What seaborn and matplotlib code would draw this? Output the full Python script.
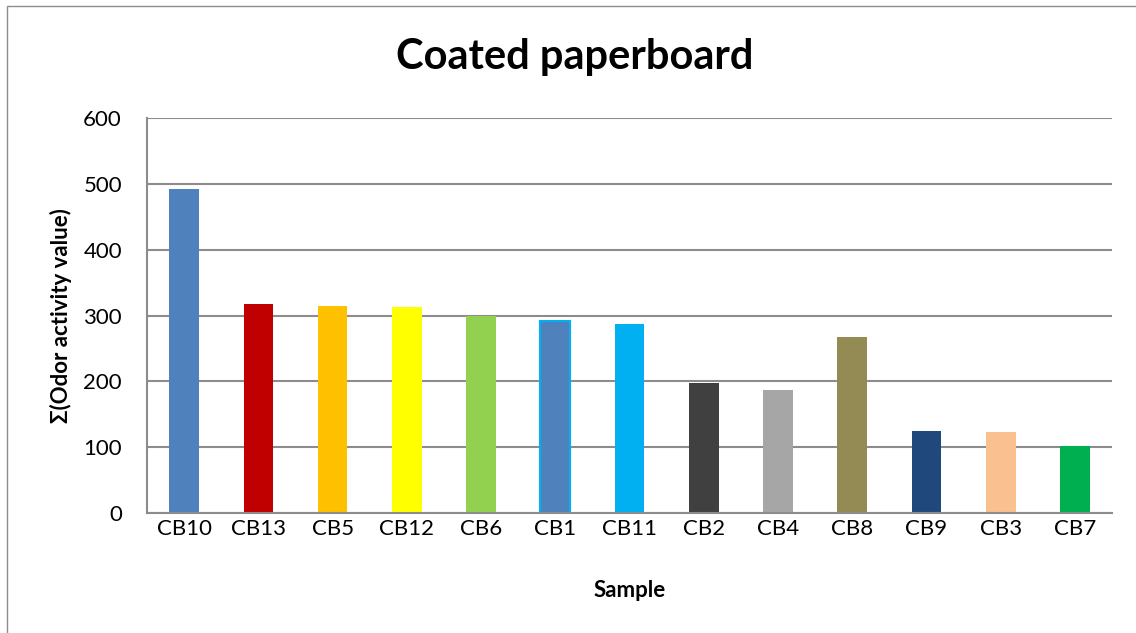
import matplotlib
matplotlib.use("Agg")
import matplotlib.pyplot as plt
import seaborn as sns
import pandas as pd
from matplotlib.patches import Rectangle

# values
samples = ["CB10", "CB13", "CB5", "CB12", "CB6", "CB1", "CB11",
           "CB2", "CB4", "CB8", "CB9", "CB3", "CB7"]
oav_sum = [492, 318, 315, 313, 300, 292, 287, 198, 187, 267, 125, 123, 102]
bar_colors = ["#4f81bd", "#c00000", "#ffc000", "#ffff00", "#92d050", "#4f81bd",
              "#00b0f0", "#404040", "#a6a6a6", "#948a54", "#1f497d", "#fac090",
              "#00b050"]

df = pd.DataFrame({"Sample": samples, "OAV": oav_sum})

sns.set_style("white")
plt.rcParams["font.family"] = ["Lato", "DejaVu Sans"]
plt.rcParams["text.color"] = "black"
plt.rcParams["axes.labelcolor"] = "black"

fig = plt.figure(figsize=(11.36, 6.33), dpi=100)
ax = fig.add_axes([147 / 1136, 1 - 513 / 633, (1112 - 147) / 1136, (513 - 118) / 633])

sns.barplot(data=df, x="Sample", y="OAV", hue="Sample",
            palette=dict(zip(samples, bar_colors)), legend=False,
            width=0.4, saturation=1, linewidth=0, ax=ax)

# CB1 has a light blue outline
ax.patches[samples.index("CB1")].set_edgecolor("#00b0f0")
ax.patches[samples.index("CB1")].set_linewidth(1.5)

ax.set_ylim(0, 600)
ax.set_yticks(range(0, 601, 100))
ax.yaxis.grid(True, color="#8c8c8c", linewidth=1.5)
ax.set_axisbelow(True)
for s in ["top", "right"]:
    ax.spines[s].set_visible(False)
ax.spines["left"].set_color("#8c8c8c")
ax.spines["left"].set_linewidth(1.5)
ax.spines["bottom"].set_color("#8c8c8c")
ax.spines["bottom"].set_linewidth(1.5)
ax.tick_params(axis="x", length=0, labelsize=16, pad=4, labelcolor="black")
ax.tick_params(axis="y", length=0, labelsize=16, pad=18, labelcolor="black")

ax.set_xlabel("Sample", fontsize=16, fontweight="bold", labelpad=30)
ax.set_ylabel("Σ(Odor activity value)", fontsize=16, fontweight="bold", labelpad=8)

fig.text(575 / 1136, 1 - 57 / 633, "Coated paperboard", ha="center", va="center",
         fontsize=30, fontweight="bold")

# chart frame
fig.patches.append(Rectangle((7 / 1136, -0.1), 1.2, 1 - 6 / 633 + 0.1,
                             transform=fig.transFigure, fill=False,
                             edgecolor="#8c8c8c", linewidth=1))

fig.savefig("out.png", dpi=100)
